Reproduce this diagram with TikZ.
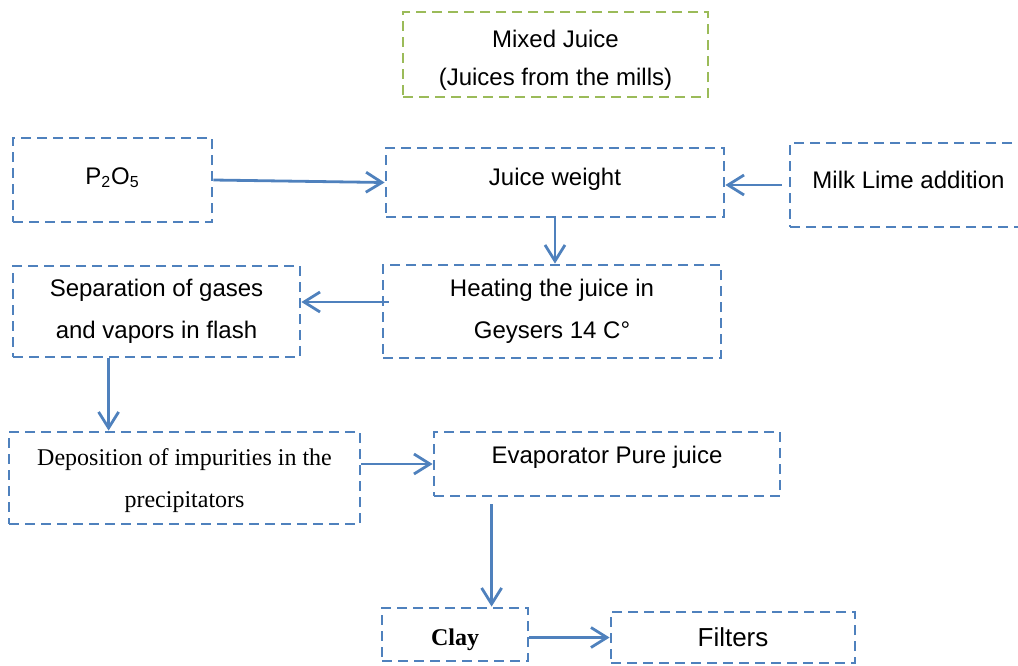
\documentclass[tikz,border=0pt]{standalone}
\usepackage{fontspec}
\setmainfont{Liberation Sans}
\newfontfamily\timesfont{Liberation Serif}
\usepackage{tikz}
\usetikzlibrary{arrows.meta, calc}

\definecolor{boxblue}{HTML}{4F81BD}
\definecolor{boxgreen}{HTML}{9BBB59}

\tikzset{
    juicebox/.style={draw=boxblue, line width=1.4pt, dash pattern=on 5pt off 3pt,
        inner sep=0pt, align=center, font=\fontsize{12}{21}\selectfont},
    greenbox/.style={juicebox, draw=boxgreen},
    flow/.style={draw=boxblue, line width=1.4pt, -{Straight Barb[length=8pt,width=10pt]}}
}

\begin{document}
\begin{tikzpicture}[x=0.5pt, y=-0.5pt]
        \useasboundingbox (0,0) rectangle (1018,665);

        % Draw the process boxes
        \node[greenbox, minimum width=152.5pt, minimum height=42.5pt] (mixed) at (555.5,54.5)
            {\rule{0pt}{14pt}Mixed Juice\\[-2pt](Juices from the mills)};
        \node[juicebox, minimum width=99.5pt, minimum height=42pt, text depth=4pt] (p2o5) at (112.5,180)
            {P\textsubscript{2}O\textsubscript{5}};
        \node[juicebox, minimum width=169pt, minimum height=34.5pt, text depth=5.5pt] (weight) at (555,182.5)
            {Juice weight};
        \node[juicebox, minimum width=118.5pt, minimum height=42pt, text depth=5.5pt] (milk) at (908.5,185)
            {Milk Lime addition};
        \node[juicebox, minimum width=143.5pt, minimum height=45.5pt] (sep) at (156.5,311.5)
            {Separation of gases\\and vapors in flash};
        \node[juicebox, minimum width=169pt, minimum height=46.5pt] (heat) at (552,311.5)
            {Heating the juice in\\Geysers 14 C°};
        \node[juicebox, minimum width=175.5pt, minimum height=46pt, font=\timesfont\fontsize{12}{21}\selectfont] (dep) at (184.5,478)
            {\rule{0pt}{11pt}Deposition of impurities in the\\precipitators};
        \node[juicebox, minimum width=173pt, minimum height=32pt, text depth=9.5pt] (evap) at (607,464)
            {Evaporator Pure juice};
        \node[juicebox, minimum width=73pt, minimum height=26.5pt, text height=13.5pt, font=\timesfont\bfseries\fontsize{12}{14}\selectfont] (clay) at (455,634.5)
            {Clay};
        \node[juicebox, minimum width=122pt, minimum height=25.5pt, font=\fontsize{13}{15}\selectfont] (filters) at (733,637.5)
            {Filters};

        % Connect the boxes
        \draw[flow] (p2o5.east) -- (weight.west);
        \draw[flow] ([xshift=-3.5pt]milk.west) -- (weight.east |- milk.west);
        \draw[flow] (weight.south) -- (weight.south |- heat.north);
        \draw[flow] ([xshift=3.5pt,yshift=4.75pt]heat.west) -- ([yshift=4.75pt]sep.east);
        \draw[flow] ([xshift=48.5pt]sep.south west) -- ([xshift=48.5pt]sep.south west |- dep.north);
        \draw[flow] (evap.west -| dep.east) -- (evap.west);
        \draw[flow] ([xshift=29.5pt,yshift=-3.5pt]evap.south west) -- ([xshift=29.5pt]evap.south west |- clay.north);
        \draw[flow] (clay.east |- filters.west) -- (filters.west);

    \end{tikzpicture}
\end{document}
